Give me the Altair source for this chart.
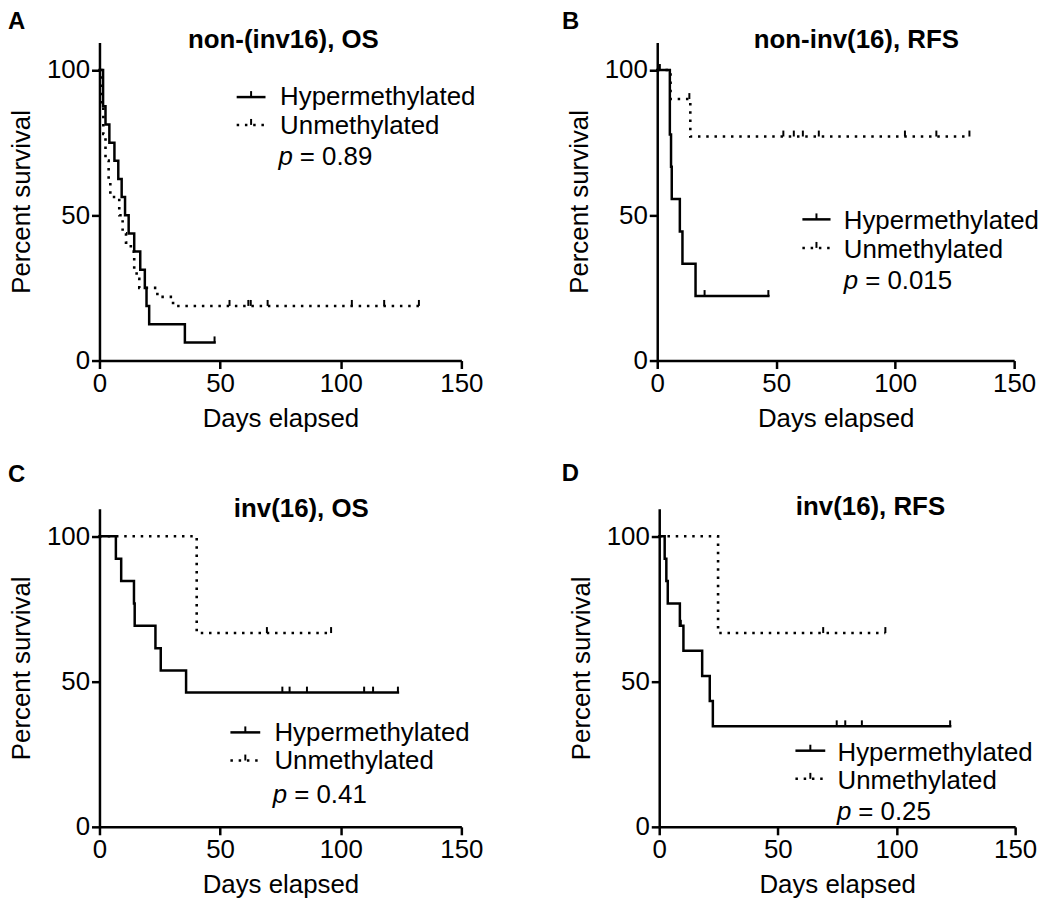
import altair as alt
import pandas as pd

FONT = "Liberation Sans"

# ---------------- data ----------------
# Panel A: non-(inv16), OS
a_hyp_t = [0, 1.5, 2.5, 4.1, 6.2, 7.8, 9.2, 10.6, 12.1, 14.4, 16.9, 18.8, 19.5, 20.6, 35.4, 47.7]
a_hyp_s = [100, 87.5, 81.25, 75, 68.75, 62.5, 56.25, 50, 43.75, 37.5, 31.25, 25, 18.75, 12.5, 6.25, 6.25]
a_hyp_cens_t = [47.7]
a_hyp_cens_s = [6.25]
a_un_t = [0, 0.8, 1.6, 2.5, 3.8, 4.5, 8.2, 9.6, 11.0, 13.0, 14.4, 15.4, 16.5, 24.0, 30.5, 132.4]
a_un_s = [100, 87.5, 78, 68.8, 62.5, 56.3, 50, 43.8, 40.6, 37.5, 31.3, 28.1, 25.0, 21.9, 18.8, 18.8]
a_un_cens_t = [53.9, 61.7, 62.7, 69.7, 104.6, 118.0, 132.4]
a_un_cens_s = [18.8, 18.8, 18.8, 18.8, 18.8, 18.8, 18.8]

# Panel B: non-inv(16), RFS
b_hyp_t = [0, 5.3, 5.8, 6.1, 9.5, 10.6, 16.1, 46.7]
b_hyp_s = [100, 77.8, 66.7, 55.6, 44.4, 33.3, 22.2, 22.2]
b_hyp_cens_t = [19.9, 46.7]
b_hyp_cens_s = [22.2, 22.2]
b_un_t = [0, 5.6, 13.9, 131.2]
b_un_s = [100, 90, 77.1, 77.1]
b_un_cens_t = [1.1, 13.5, 53.0, 57.4, 61.2, 67.9, 104.1, 117.3, 131.2]
b_un_cens_s = [100, 90, 77.1, 77.1, 77.1, 77.1, 77.1, 77.1, 77.1]

# Panel C: inv(16), OS
c_hyp_t = [0, 6.8, 9.0, 14.3, 14.6, 23.2, 25.4, 35.9, 123.7]
c_hyp_s = [100, 92.3, 84.6, 76.9, 69.2, 61.5, 53.8, 46.2, 46.2]
c_hyp_cens_t = [75.8, 78.8, 86.0, 109.7, 113.4, 123.7]
c_hyp_cens_s = [46.2, 46.2, 46.2, 46.2, 46.2, 46.2]
c_un_t = [0, 40.3, 96.0]
c_un_s = [100, 66.7, 66.7]
c_un_cens_t = [69.4, 96.0]
c_un_cens_s = [66.7, 66.7]

# Panel D: inv(16), RFS
d_hyp_t = [0, 2.3, 3.0, 3.6, 8.7, 10.2, 18.1, 21.3, 22.6, 122.6]
d_hyp_s = [100, 92.3, 84.6, 76.9, 69.2, 60.6, 51.9, 43.3, 34.6, 34.6]
d_hyp_cens_t = [9.1, 74.8, 78.4, 85.4, 122.6]
d_hyp_cens_s = [69.2, 34.6, 34.6, 34.6, 34.6]
d_un_t = [0, 24.8, 95.3]
d_un_s = [100, 66.7, 66.7]
d_un_cens_t = [69.1, 95.3]
d_un_cens_s = [66.7, 66.7]

titles = ["non-(inv16), OS", "non-inv(16), RFS", "inv(16), OS", "inv(16), RFS"]
letters = ["A", "B", "C", "D"]
pvals = ["= 0.89", "= 0.015", "= 0.41", "= 0.25"]
series_names = ["Hypermethylated", "Unmethylated"]
x_ticks = [0, 50, 100, 150]
y_ticks = [0, 50, 100]

# ---------------- layout (pixels relative to each plot area) ----------------
H = 320
YMAX = 109.5
DOTS = [2.5, 5.8]
layout = {
    "A": dict(w=364, title=(185, 5.7), letter=(-92, -13), lx=(138, 167), ly=(55, 83), tx=181.7, tb=(63, 91.7), pb=123, px=180),
    "B": dict(w=359, title=(200.3, 5.7), letter=(-95.7, -13), lx=(146, 174.3), ly=(178, 206.7), tx=187.6, tb=(188, 217), pb=248, px=187.6),
    "C": dict(w=364, title=(203, 8.3), letter=(-92, -26.7), lx=(131.7, 161.7), ly=(225, 253.3), tx=176, tb=(233.3, 261.6), pb=296, px=174.4),
    "D": dict(w=358, title=(212.5, 6.7), letter=(-98, -28.3), lx=(137, 167), ly=(243.4, 271.7), tx=179.3, tb=(253.4, 281.7), pb=313.4, px=178.7),
}

dummy = pd.DataFrame({"k": [0]})


def panel(key, title, pval, hyp, un, hyp_c, un_c):
    L = layout[key]
    xenc = alt.X("t:Q", scale=alt.Scale(domain=[0, 150], nice=False),
                 axis=alt.Axis(values=x_ticks, title="Days elapsed", labelFlush=False))
    yenc = alt.Y("s:Q", scale=alt.Scale(domain=[0, YMAX], nice=False),
                 axis=alt.Axis(values=y_ticks, title="Percent survival", labelFlush=False))
    hyp_df = pd.DataFrame({"t": hyp[0], "s": hyp[1]})
    un_df = pd.DataFrame({"t": un[0], "s": un[1]})
    cens_df = pd.DataFrame({"t": hyp_c[0] + un_c[0], "s": hyp_c[1] + un_c[1]})

    l_hyp = alt.Chart(hyp_df).mark_line(interpolate="step-after", color="black", strokeWidth=2.5,
                                        strokeCap="square").encode(x=xenc, y=yenc)
    l_un = alt.Chart(un_df).mark_line(interpolate="step-after", color="black", strokeWidth=2.6,
                                      strokeDash=DOTS).encode(x="t:Q", y="s:Q")
    cens = alt.Chart(cens_df).mark_rule(color="black", strokeWidth=2, y2Offset=-6).encode(
        x="t:Q", y="s:Q", y2="s:Q")

    layers = [l_hyp, l_un, cens]
    # legend samples
    for i, name in enumerate(series_names):
        y = L["ly"][i]
        props = dict(color="black", strokeWidth=2.5)
        if i == 1:
            props["strokeDash"] = DOTS
        layers.append(alt.Chart(dummy).mark_rule(**props).encode(
            x=alt.value(L["lx"][0]), x2=alt.value(L["lx"][1]), y=alt.value(y)))
        mid = (L["lx"][0] + L["lx"][1]) / 2
        layers.append(alt.Chart(dummy).mark_rule(color="black", strokeWidth=2).encode(
            x=alt.value(mid), y=alt.value(y - 6), y2=alt.value(y)))
        layers.append(alt.Chart(dummy).mark_text(text=name, font=FONT, fontSize=26, align="left",
                                                 baseline="alphabetic", color="black").encode(
            x=alt.value(L["tx"]), y=alt.value(L["tb"][i])))
    # p value
    layers.append(alt.Chart(dummy).mark_text(text="p", font=FONT, fontSize=26, fontStyle="italic",
                                             align="left", baseline="alphabetic", color="black").encode(
        x=alt.value(L["px"]), y=alt.value(L["pb"])))
    layers.append(alt.Chart(dummy).mark_text(text=pval, font=FONT, fontSize=26, align="left",
                                             baseline="alphabetic", color="black").encode(
        x=alt.value(L["px"] + 21.5), y=alt.value(L["pb"])))
    # panel title
    layers.append(alt.Chart(dummy).mark_text(text=title, font=FONT, fontSize=26, fontWeight="bold",
                                             align="center", baseline="alphabetic", color="black").encode(
        x=alt.value(L["title"][0]), y=alt.value(L["title"][1])))
    # panel letter
    layers.append(alt.Chart(dummy).mark_text(text=key, font=FONT, fontSize=24, fontWeight="bold",
                                             align="left", baseline="alphabetic", color="black").encode(
        x=alt.value(L["letter"][0]), y=alt.value(L["letter"][1])))
    return alt.layer(*layers).properties(width=L["w"], height=H)


pA = panel("A", titles[0], pvals[0], (a_hyp_t, a_hyp_s), (a_un_t, a_un_s),
           (a_hyp_cens_t, a_hyp_cens_s), (a_un_cens_t, a_un_cens_s))
pB = panel("B", titles[1], pvals[1], (b_hyp_t, b_hyp_s), (b_un_t, b_un_s),
           (b_hyp_cens_t, b_hyp_cens_s), (b_un_cens_t, b_un_cens_s))
pC = panel("C", titles[2], pvals[2], (c_hyp_t, c_hyp_s), (c_un_t, c_un_s),
           (c_hyp_cens_t, c_hyp_cens_s), (c_un_cens_t, c_un_cens_s))
pD = panel("D", titles[3], pvals[3], (d_hyp_t, d_hyp_s), (d_un_t, d_un_s),
           (d_hyp_cens_t, d_hyp_cens_s), (d_un_cens_t, d_un_cens_s))

row1 = alt.hconcat(pA, pB, spacing=79)
row2 = alt.hconcat(pC, pD, spacing=79)

chart = alt.vconcat(row1, row2, spacing=30).properties(
    padding={"left": 0, "top": 0, "right": 2, "bottom": 2},
    background="white",
).configure_axis(
    domainColor="black", domainWidth=2.5, tickColor="black", tickWidth=2.5, tickSize=8,
    labelFont=FONT, labelFontSize=26, labelColor="black", labelPadding=2,
    titleFont=FONT, titleFontSize=26, titleFontWeight="normal", titleColor="black", grid=False,
).configure_axisY(titlePadding=12).configure_axisX(titlePadding=9).configure_view(stroke=None)

chart.save("out.html", embed_options={"renderer": "svg", "actions": False})
